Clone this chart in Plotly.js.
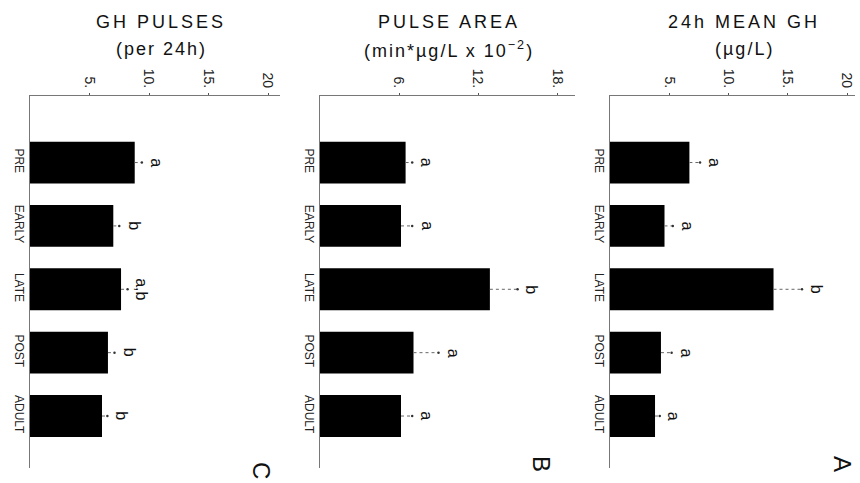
<!DOCTYPE html>
<html>
<head>
<meta charset="utf-8">
<script src="https://cdn.plot.ly/plotly-3.0.1.min.js"></script>
<style>html,body{margin:0;padding:0;background:#fff;}#chart{width:860px;height:483px;}</style>
</head>
<body>
<div id="chart"></div>
<script>
// ---- data ----
const categories = ['PRE', 'EARLY', 'LATE', 'POST', 'ADULT'];

// Panel C: GH pulses per 24h
const pulsesMean  = [8.8, 7.0, 7.65, 6.55, 6.05];
const pulsesUpper = [9.4, 7.5, 8.2, 7.1, 6.5];
const pulsesLetters = ['a', 'b', 'a,b', 'b', 'b'];

// Panel B: pulse area (min*ug/L x 10^-2)
const areaMean  = [6.5, 6.15, 12.9, 7.1, 6.15];
const areaUpper = [7.0, 7.0, 15.0, 9.0, 7.0];
const areaLetters = ['a', 'a', 'b', 'a', 'a'];

// Panel A: 24h mean GH (ug/L)
const ghMean  = [6.7, 4.6, 13.8, 4.3, 3.8];
const ghUpper = [7.6, 5.3, 16.2, 5.2, 4.2];
const ghLetters = ['a', 'a', 'b', 'a', 'a'];

const ticksC = [5, 10, 15, 20];
const tickTextC = ['5.', '10.', '15.', '20'];
const ticksB = [6, 12, 18];
const tickTextB = ['6.', '12.', '18.'];
const ticksA = [5, 10, 15, 20];
const tickTextA = ['5.', '10.', '15.', '20'];

// ---- layout helpers ----
const W = 860, H = 483;
const FONT = 'Liberation Sans, Arial, sans-serif';
const px = v => v / W;
const py = v => 1 - v / H;
const yDomain = [py(468), py(96)];

const panels = [
  {mean: pulsesMean, upper: pulsesUpper, letters: pulsesLetters, x0: 30, x1: 280, scale: 11.9,
   tv: ticksC, tt: tickTextC, t1: 'GH PULSES', t2: '(per 24h)', tc: 161, tag: 'C', tagx: 262, tagy: 470},
  {mean: areaMean, upper: areaUpper, letters: areaLetters, x0: 320, x1: 575, scale: 13.17,
   tv: ticksB, tt: tickTextB, t1: 'PULSE AREA', t2: '(min*µg/L x 10<sup>−2</sup>)', tc: 449, tag: 'B', tagx: 542, tagy: 464},
  {mean: ghMean, upper: ghUpper, letters: ghLetters, x0: 610, x1: 855, scale: 11.85,
   tv: ticksA, tt: tickTextA, t1: '24h MEAN GH', t2: '(µg/L)', tc: 744, tag: 'A', tagx: 843, tagy: 464}
];

const data = [];
const annotations = [];
const layout = {
  width: W, height: H,
  margin: {l: 0, r: 0, t: 0, b: 0},
  paper_bgcolor: '#fff', plot_bgcolor: '#fff',
  showlegend: false,
  font: {family: FONT, color: '#111'},
  annotations: annotations
};

panels.forEach((p, i) => {
  const n = i + 1;
  const xa = 'x' + (n === 1 ? '' : n), ya = 'y' + (n === 1 ? '' : n);
  const xk = 'xaxis' + (n === 1 ? '' : n), yk = 'yaxis' + (n === 1 ? '' : n);

  data.push({
    type: 'bar', orientation: 'h', x: p.mean, y: categories,
    xaxis: xa, yaxis: ya, width: 0.66,
    marker: {color: '#000', line: {width: 0}}, hoverinfo: 'x+y'
  });

  // dotted error bars from bar end to upper value
  const ex = [], ey = [];
  categories.forEach((c, k) => { ex.push(p.mean[k], p.upper[k], null); ey.push(c, c, null); });
  data.push({
    type: 'scatter', mode: 'lines', x: ex, y: ey, xaxis: xa, yaxis: ya,
    line: {color: '#666', width: 1, dash: 'dot'}, hoverinfo: 'skip', cliponaxis: false
  });
  data.push({
    type: 'scatter', mode: 'markers', x: p.upper, y: categories, xaxis: xa, yaxis: ya,
    marker: {color: '#333', size: 2.5}, hoverinfo: 'skip', cliponaxis: false
  });

  layout[xk] = {
    domain: [px(p.x0), px(p.x1)],
    range: [0, (p.x1 - p.x0) / p.scale],
    anchor: ya, side: 'top',
    showgrid: false, zeroline: false,
    showline: true, linecolor: '#777', linewidth: 1,
    ticks: 'outside', ticklen: 2, tickcolor: '#555',
    tickvals: p.tv, ticktext: p.tt, tickangle: 90,
    tickfont: {family: FONT, size: 14, color: '#222'}
  };
  layout[yk] = {
    domain: yDomain,
    type: 'category',
    range: [4.82, -1.05],
    anchor: xa,
    showgrid: false, zeroline: false,
    showline: true, linecolor: '#777', linewidth: 1,
    ticks: '', tickangle: 90,
    tickfont: {family: FONT, size: 12, color: '#222'}
  };

  // significance letters
  categories.forEach((c, k) => {
    annotations.push({
      xref: xa, yref: ya, x: p.upper[k], y: c, text: p.letters[k],
      showarrow: false, xanchor: 'left', yanchor: 'middle', xshift: 4,
      textangle: 90, font: {family: FONT, size: 16, color: '#111'}
    });
  });

  // titles
  annotations.push({
    xref: 'paper', yref: 'paper', x: px(p.tc), y: py(22), text: '<span style="letter-spacing:3px">' + p.t1 + '</span>',
    showarrow: false, xanchor: 'center', yanchor: 'middle',
    font: {family: FONT, size: 18, color: '#111'}
  });
  annotations.push({
    xref: 'paper', yref: 'paper', x: px(p.tc), y: py(49), text: '<span style="letter-spacing:2px">' + p.t2 + '</span>',
    showarrow: false, xanchor: 'center', yanchor: 'middle',
    font: {family: FONT, size: 18, color: '#111'}
  });
  // panel tag
  annotations.push({
    xref: 'paper', yref: 'paper', x: px(p.tagx), y: py(p.tagy), text: p.tag,
    showarrow: false, xanchor: 'center', yanchor: 'middle', textangle: 90,
    font: {family: FONT, size: 24, color: '#111'}
  });
});

Plotly.newPlot('chart', data, layout, {displayModeBar: false, staticPlot: true});
</script>
</body>
</html>
